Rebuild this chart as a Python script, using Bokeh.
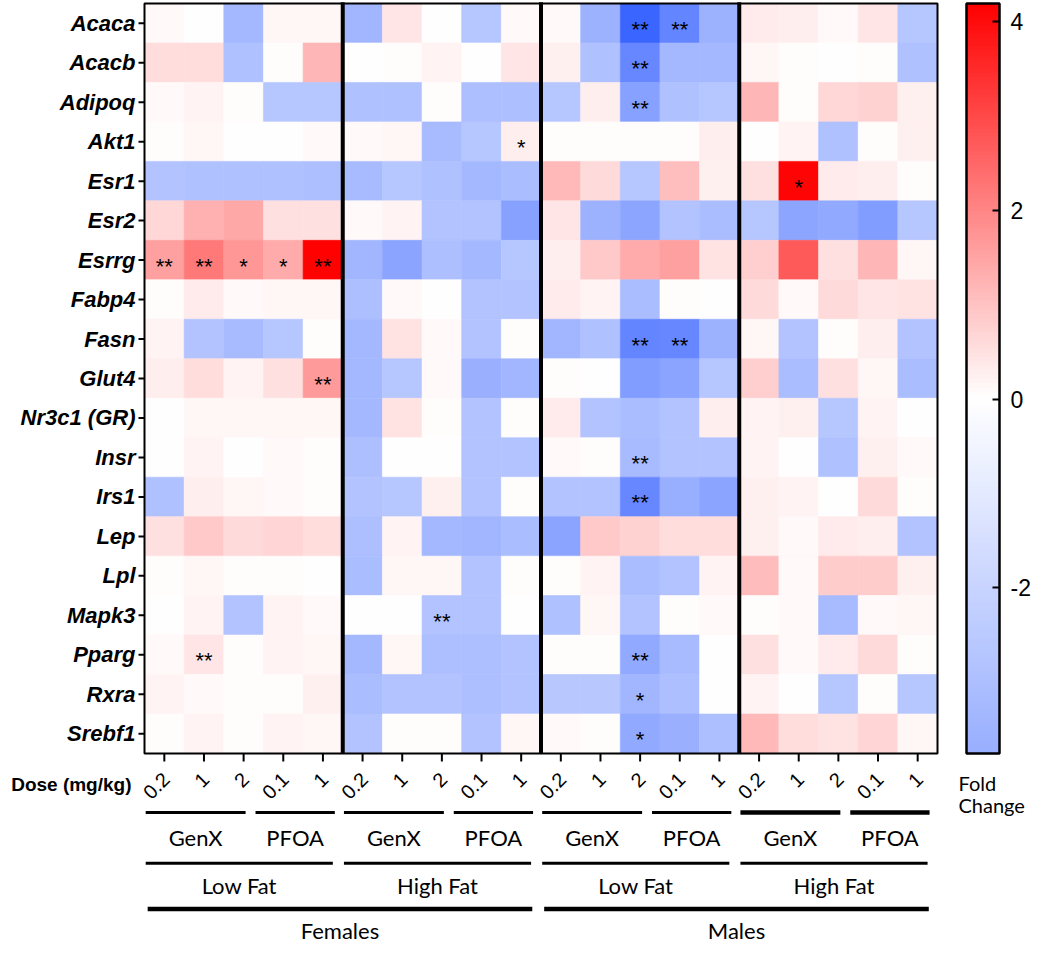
import numpy as np
import pandas as pd
from bokeh.plotting import figure
from bokeh.models import ColumnDataSource, LinearColorMapper, ColorBar, FixedTicker, Range1d
from bokeh.core.properties import value
from bokeh.transform import transform
from bokeh.embed import file_html
from bokeh.resources import INLINE

# ---------------- data ----------------
genes = ["Acaca", "Acacb", "Adipoq", "Akt1", "Esr1", "Esr2", "Esrrg", "Fabp4", "Fasn",
         "Glut4", "Nr3c1 (GR)", "Insr", "Irs1", "Lep", "Lpl", "Mapk3", "Pparg", "Rxra", "Srebf1"]
dose_labels = ["0.2", "1", "2", "0.1", "1"] * 4
compounds = ["GenX", "PFOA"] * 4
compound_sizes = [3, 2] * 4
diets = ["Low Fat", "High Fat", "Low Fat", "High Fat"]
sexes = ["Females", "Males"]

# fold change, columns: F-LF(GenX 0.2,1,2 | PFOA 0.1,1), F-HF, M-LF, M-HF
acaca  = [0.1, 0.0, -3.3, 0.15, 0.15,  -3.4, 0.4, 0.0, -2.7, 0.1,   0.1, -3.6, -7.2, -5.7, -3.6,  0.35, 0.3, 0.1, 0.4, -2.7]
acacb  = [0.55, 0.55, -2.9, 0.05, 1.2,  0.02, 0.08, 0.2, 0.0, 0.4,  0.25, -2.9, -5.6, -3.3, -3.3,  0.15, 0.08, 0.0, 0.05, -2.9]
adipoq = [0.1, 0.2, 0.05, -2.7, -2.7,  -2.9, -2.9, 0.05, -3.0, -3.0,  -2.7, 0.3, -4.4, -2.9, -2.7,  1.2, 0.05, 0.65, 0.75, 0.25]
akt1   = [0.05, 0.15, 0.0, 0.0, 0.1,  0.1, 0.15, -3.2, -2.7, 0.3,  0.05, 0.05, 0.05, 0.05, 0.3,  0.0, 0.2, -2.9, 0.05, 0.25]
esr1   = [-2.8, -2.9, -2.9, -2.9, -3.0,  -3.2, -2.7, -2.9, -3.3, -3.1,  1.15, 0.6, -2.7, 1.05, 0.25,  0.5, 4.1, 0.35, 0.3, 0.08]
esr2   = [0.65, 1.3, 1.45, 0.5, 0.5,  0.1, 0.2, -2.8, -2.8, -4.4,  0.4, -3.6, -4.2, -2.8, -3.1,  -2.7, -4.2, -4.0, -4.6, -2.7]
esrrg  = [1.55, 2.2, 1.7, 1.4, 4.19,  -3.4, -4.3, -3.0, -3.3, -2.7,  0.3, 0.9, 1.4, 1.55, 0.45,  0.8, 2.7, 0.5, 1.2, 0.15]
fabp4  = [0.05, 0.35, 0.1, 0.15, 0.15,  -3.0, 0.1, 0.0, -2.8, -2.8,  0.35, 0.2, -3.1, 0.05, 0.0,  0.6, 0.1, 0.6, 0.4, 0.45]
fasn   = [0.2, -2.8, -3.2, -2.7, 0.05,  -3.3, 0.45, 0.1, -2.8, 0.08,  -3.4, -2.9, -5.7, -5.6, -3.6,  0.15, -2.8, 0.08, 0.3, -2.8]
glut4  = [0.3, 0.55, 0.2, 0.5, 1.65,  -3.3, -2.7, 0.1, -3.7, -3.4,  0.05, 0.0, -4.6, -4.3, -2.7,  0.8, -3.1, 0.5, 0.15, -3.1]
nr3c1  = [0.02, 0.15, 0.15, 0.15, 0.15,  -3.3, 0.45, 0.08, -2.8, 0.05,  0.35, -2.8, -3.1, -2.8, 0.3,  0.2, 0.25, -2.7, 0.2, 0.03]
insr   = [0.03, 0.2, 0.02, 0.1, 0.05,  -3.0, 0.0, 0.0, -2.8, -2.8,  0.1, 0.05, -3.2, -2.8, -2.8,  0.2, 0.0, -2.9, 0.25, 0.1]
irs1   = [-2.9, 0.3, 0.15, 0.1, 0.08,  -2.8, -2.7, 0.25, -2.8, 0.05,  -2.8, -2.8, -5.6, -3.8, -4.3,  0.25, 0.2, 0.0, 0.6, 0.05]
lep    = [0.5, 0.9, 0.6, 0.7, 0.55,  -3.0, 0.2, -3.3, -3.4, -3.1,  -4.3, 0.9, 0.75, 0.55, 0.55,  0.25, 0.1, 0.35, 0.3, -2.8]
lpl    = [0.08, 0.15, 0.05, 0.05, 0.03,  -3.1, 0.15, 0.15, -2.8, 0.05,  0.05, 0.2, -3.1, -2.8, 0.2,  1.1, 0.1, 0.85, 0.85, 0.25]
mapk3  = [0.02, 0.2, -2.8, 0.2, 0.1,  0.0, 0.0, -2.8, -2.8, 0.03,  -2.9, 0.15, -2.8, 0.05, 0.1,  0.08, 0.1, -3.2, 0.1, 0.15]
pparg  = [0.1, 0.4, 0.05, 0.2, 0.15,  -3.3, 0.15, -3.0, -3.0, -2.8,  0.05, 0.05, -4.0, -3.2, 0.0,  0.5, 0.1, 0.35, 0.6, 0.05]
rxra   = [0.2, 0.1, 0.05, 0.05, 0.25,  -3.1, -2.8, -2.8, -3.0, -2.8,  -2.6, -2.6, -3.4, -3.0, 0.02,  0.2, 0.0, -2.7, 0.05, -2.7]
srebf1 = [0.05, 0.2, 0.05, 0.2, 0.15,  -2.8, 0.05, 0.05, -2.8, 0.15,  0.1, 0.05, -4.0, -3.7, -3.0,  1.15, 0.55, 0.45, 0.7, 0.15]

rows = [acaca, acacb, adipoq, akt1, esr1, esr2, esrrg, fabp4, fasn, glut4,
        nr3c1, insr, irs1, lep, lpl, mapk3, pparg, rxra, srebf1]

# significance marks (gene index, column index, mark)
sig_gene = [0, 0, 1, 2, 3, 4, 6, 6, 6, 6, 6, 8, 8, 9, 11, 12, 15, 16, 16, 17, 18]
sig_col  = [12, 13, 12, 12, 9, 16, 0, 1, 2, 3, 4, 12, 13, 4, 12, 12, 7, 1, 12, 12, 12]
sig_mark = ["**", "**", "**", "**", "*", "*", "**", "**", "*", "*", "**", "**", "**", "**",
            "**", "**", "**", "**", "**", "*", "*"]

cb_low, cb_high = -3.73, 4.19
cb_ticks = [-2, 0, 2, 4]
cb_tick_labels = {-2: "-2", 0: "0", 2: "2", 4: "4"}

# ---------------- geometry ----------------
W, H = 1034, 945


def rx(x):
    # reference-picture x -> canvas x
    return x - 5.0


def ry(y):
    # reference-picture y -> canvas y (annotation band slightly compressed)
    return y - 4.0 if y <= 757 else 753.0 + (y - 757.0) * 0.937


NCOL, NROW = len(dose_labels), len(genes)
X0, X1 = rx(149), rx(942)      # heatmap left/right (canvas px)
YT, YB = ry(7), ry(757)        # heatmap top/bottom (canvas px)
COLW = (X1 - X0) / NCOL
ROWH = (YB - YT) / NROW


def dx(px):
    return (px - X0) / COLW


def dy(py):
    return (YB - py) / ROWH


# ---------------- colour mapping ----------------
LOW, HIGH = -7.5, 4.19
N = 256
bins = LOW + (np.arange(N) + 0.5) * (HIGH - LOW) / N
palette = []
for b in bins:
    if b < 0:
        t = min(-b / -LOW, 1.0)
        r, g, bl = 255 - 205 * t, 255 - 160 * t, 255
    else:
        t = min(b / HIGH, 1.0)
        r, g, bl = 255, 255 - 255 * t, 255 - 255 * t
    palette.append("#%02x%02x%02x" % (int(round(r)), int(round(g)), int(round(bl))))
mapper = LinearColorMapper(palette=palette, low=LOW, high=HIGH)

# ---------------- table ----------------
recs = []
for i, vals in enumerate(rows):
    for j, v in enumerate(vals):
        recs.append(dict(gene=genes[i], dose=dose_labels[j], x=j + 0.5, y=NROW - i - 0.5, v=v))
df = pd.DataFrame(recs)
src = ColumnDataSource(df)

p = figure(width=W, height=H, x_range=Range1d(dx(0), dx(W)), y_range=Range1d(dy(H), dy(0)),
           output_backend="svg", toolbar_location=None,
           x_axis_location=None, y_axis_location=None, min_border=0)
p.outline_line_color = None
p.grid.visible = False
p.background_fill_color = "white"

p.rect(x="x", y="y", width=1, height=1, source=src,
       fill_color=transform("v", mapper), line_color=transform("v", mapper), line_width=0.6)

# border and group separators
p.rect(x=[NCOL / 2], y=[NROW / 2], width=NCOL, height=NROW, fill_color=None,
       line_color="black", line_width=2)
sep = [5, 10, 15]
p.segment(x0=sep, y0=[0] * 3, x1=sep, y1=[NROW + 0.03] * 3, line_color="black", line_width=4)

# ticks
row_c = [NROW - i - 0.5 for i in range(NROW)]
col_c = [j + 0.5 for j in range(NCOL)]
p.segment(x0=[-6 / COLW] * NROW, y0=row_c, x1=[0] * NROW, y1=row_c, line_color="black", line_width=2)
p.segment(x0=col_c, y0=[0] * NCOL, x1=col_c, y1=[-8 / ROWH] * NCOL, line_color="black", line_width=2)

# gene labels
p.text(x=[-9 / COLW] * NROW, y=row_c, text=genes, text_align="right", text_baseline="middle",
       text_font=value("Liberation Sans"), text_font_style="bold italic", text_font_size="22px",
       text_color="black")

# dose labels
p.text(x=[c + 1.8 / COLW for c in col_c], y=[dy(ry(781))] * NCOL, text=dose_labels, angle=np.pi / 4,
       text_align="right", text_baseline="middle", text_font=value("Liberation Sans"),
       text_font_size="20px", text_color="black")
p.text(x=[dx(rx(136))], y=[dy(ry(790))], text=["Dose (mg/kg)"], text_align="right",
       text_baseline="middle", text_font=value("Liberation Sans"), text_font_style="bold",
       text_font_size="19px", text_color="black")

# significance stars
p.text(x=[c + 0.5 for c in sig_col], y=[NROW - g - 0.5 for g in sig_gene], text=sig_mark,
       text_align="center", text_baseline="middle", y_offset=6,
       text_font=value("Liberation Sans"), text_font_size="22px", text_color="black")

# group brackets
lab_font = value("Lato")
c0 = 0
cx0, cx1, cw, cmid = [], [], [], []
for k, (name, size) in enumerate(zip(compounds, compound_sizes)):
    if name == "GenX":
        a, b = c0 + 0.03, c0 + size - 0.45
    else:
        a, b = c0 - 0.2, c0 + size - 0.2
    cx0.append(a); cx1.append(b); cmid.append((a + b) / 2)
    cw.append(4.5 if k >= 6 else 3)
    c0 += size
p.segment(x0=cx0, y0=[dy(ry(820))] * len(cx0), x1=cx1, y1=[dy(ry(820))] * len(cx0),
          line_color="black", line_width=cw)
p.text(x=cmid, y=[dy(ry(847))] * len(cmid), text=compounds, text_align="center",
       text_baseline="middle", text_font=lab_font, text_font_size="22px", text_color="black")

dsz = NCOL // len(diets)
dx0 = [k * dsz + 0.03 for k in range(len(diets))]
dx1 = [k * dsz + dsz - 0.25 for k in range(len(diets))]
p.segment(x0=dx0, y0=[dy(ry(874))] * 4, x1=dx1, y1=[dy(ry(874))] * 4, line_color="black",
          line_width=3)
p.text(x=[(a + b) / 2 for a, b in zip(dx0, dx1)], y=[dy(ry(898))] * 4, text=diets,
       text_align="center", text_baseline="middle", text_font=lab_font, text_font_size="22px",
       text_color="black")

ssz = NCOL // len(sexes)
sx0 = [k * ssz + 0.08 for k in range(len(sexes))]
sx1 = [k * ssz + ssz - 0.22 for k in range(len(sexes))]
p.segment(x0=sx0, y0=[dy(ry(923))] * 2, x1=sx1, y1=[dy(ry(923))] * 2, line_color="black",
          line_width=4.5)
p.text(x=[(a + b) / 2 for a, b in zip(sx0, sx1)], y=[dy(ry(946))] * 2, text=sexes,
       text_align="center", text_baseline="middle", text_font=lab_font, text_font_size="22px",
       text_color="black")

# colour bar
CB_L, CB_W = rx(971), 33
cb = ColorBar(color_mapper=mapper, display_low=cb_low, display_high=cb_high,
              ticker=FixedTicker(ticks=cb_ticks), major_label_overrides=cb_tick_labels,
              location=(CB_L, H - YB), width=CB_W, height=int(round(YB - YT)),
              padding=0, margin=0, orientation="vertical",
              bar_line_color="black", bar_line_width=2.5,
              major_tick_in=7, major_tick_out=0, major_tick_line_color="black", major_tick_line_width=2,
              minor_tick_line_color=None, label_standoff=11,
              major_label_text_font="Liberation Sans", major_label_text_font_size="23px",
              major_label_text_color="black",
              border_line_color=None, background_fill_color=None)
p.add_layout(cb)

# left-side colour bar ticks (mirroring the right-side ones)
cb_y = [(t - cb_low) / (cb_high - cb_low) * NROW for t in cb_ticks]
p.segment(x0=[dx(CB_L)] * len(cb_y), y0=cb_y, x1=[dx(CB_L + 7)] * len(cb_y), y1=cb_y,
          line_color="black", line_width=2)

p.text(x=[dx(958)] * 2, y=[dy(ry(788)), dy(ry(812))], text=["Fold", "Change"], text_align="left",
       text_baseline="middle", text_font=lab_font, text_font_size="20px", text_color="black")

open("out.html", "w").write(file_html(p, INLINE))
